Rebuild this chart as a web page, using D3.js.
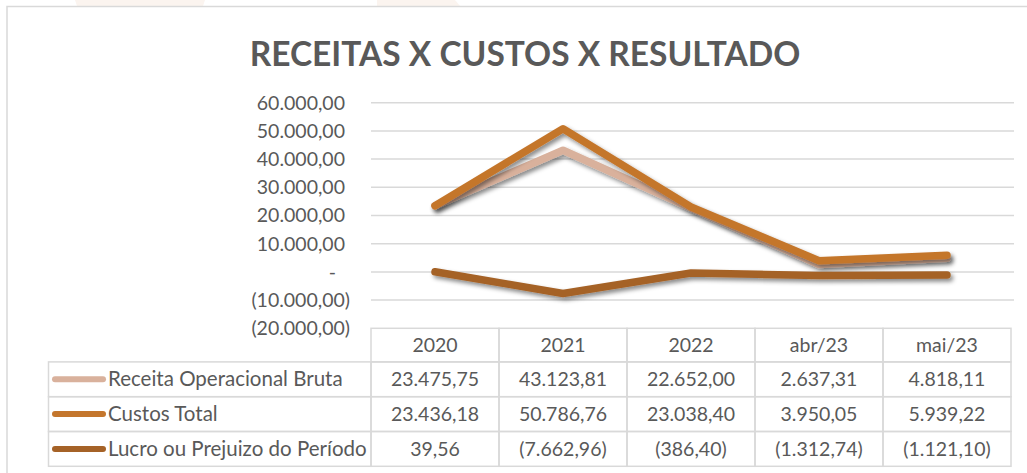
<!DOCTYPE html>
<html>
<head>
<meta charset="utf-8">
<script src="https://cdn.jsdelivr.net/npm/d3@7"></script>
<style>
  html, body { margin: 0; padding: 0; background: #ffffff; }
  svg { display: block; }
  text { font-family: Lato, "Open Sans", sans-serif; fill: #595959; }
</style>
</head>
<body>
<svg id="chart" width="1027" height="473"></svg>
<script>
const title = "RECEITAS X CUSTOS X RESULTADO";
const categories = ["2020", "2021", "2022", "abr/23", "mai/23"];
const seriesNames = ["Receita Operacional Bruta", "Custos Total", "Lucro ou Prejuizo do Período"];
const receita = [23475.75, 43123.81, 22652.00, 2637.31, 4818.11];
const custos = [23436.18, 50786.76, 23038.40, 3950.05, 5939.22];
const lucro = [39.56, -7662.96, -386.40, -1312.74, -1121.10];
const yTicks = [60000, 50000, 40000, 30000, 20000, 10000, 0, -10000, -20000];
const colors = ["#D9B19C", "#C4762C", "#A56227"];

const series = [
  { name: seriesNames[0], values: receita, color: colors[0] },
  { name: seriesNames[1], values: custos, color: colors[1] },
  { name: seriesNames[2], values: lucro, color: colors[2] }
];

const locale = d3.formatLocale({ decimal: ",", thousands: ".", grouping: [3], currency: ["", ""] });
const fmt = locale.format(",.2f");
function acct(v) {
  if (v === 0) return "-";
  if (v < 0) return "(" + fmt(-v) + ")";
  return fmt(v);
}

const svg = d3.select("#chart");
const gridColor = "#D9D9D9";

// faint background decoration at top
svg.append("path").attr("d", "M75,0 L205,0 L203,6 L77,6 Z").attr("fill", "#FBF4EF");
svg.append("path").attr("d", "M377,0 L455,0 L460,6 L377,6 Z").attr("fill", "#FBF4EF");

// chart frame
svg.append("rect").attr("x", 7).attr("y", 6.5).attr("width", 1040).attr("height", 500)
  .attr("fill", "#fff").attr("stroke", gridColor).attr("stroke-width", 1.5);

// title
svg.append("text").attr("x", 525).attr("y", 66).attr("text-anchor", "middle")
  .style("font-size", "33.5px").style("font-weight", "bold").text(title);

const plotLeft = 371, plotRight = 1011;
const x = d3.scaleBand().domain(categories).range([plotLeft, plotRight]);
const y = d3.scaleLinear().domain([-20000, 60000]).range([328.3, 102.7]);

// gridlines
svg.append("g").selectAll("line").data(yTicks.filter(t => t > -20000)).join("line")
  .attr("x1", plotLeft).attr("x2", plotRight + 3)
  .attr("y1", d => y(d)).attr("y2", d => y(d))
  .attr("stroke", gridColor).attr("stroke-width", 1.5);

// y labels
svg.append("g").selectAll("text").data(yTicks).join("text")
  .attr("x", d => d === 0 ? 336 : (d < 0 ? 350 : 345))
  .attr("y", d => y(d)).attr("dy", "0.35em")
  .attr("text-anchor", "end").style("font-size", "19.5px")
  .text(d => acct(d));

// drop shadow
const defs = svg.append("defs");
const f = defs.append("filter").attr("id", "shadow").attr("x", "-10%").attr("y", "-30%").attr("width", "130%").attr("height", "180%");
f.append("feDropShadow").attr("dx", 2.5).attr("dy", 3).attr("stdDeviation", 2.2)
  .attr("flood-color", "#000").attr("flood-opacity", 0.45);

const line = d3.line().x((d, i) => x(categories[i]) + x.bandwidth() / 2).y(d => y(d));
svg.append("g").selectAll("path").data(series).join("path")
  .attr("d", d => line(d.values))
  .attr("fill", "none").attr("stroke", d => d.color).attr("stroke-width", 7.5)
  .attr("stroke-linecap", "round").attr("stroke-linejoin", "round")
  .attr("filter", "url(#shadow)");

// data table
const tableTop = 328.3, headerH = 33.6, rowH = 34.8, legendLeft = 48.5;
const tg = svg.append("g");
tg.selectAll("rect.h").data(categories).join("rect").attr("class", "h")
  .attr("x", d => x(d)).attr("y", tableTop).attr("width", x.bandwidth()).attr("height", headerH)
  .attr("fill", "none").attr("stroke", gridColor).attr("stroke-width", 1.5);
tg.selectAll("text.h").data(categories).join("text").attr("class", "h")
  .attr("x", d => x(d) + x.bandwidth() / 2).attr("y", tableTop + headerH / 2).attr("dy", "0.35em")
  .attr("text-anchor", "middle").style("font-size", "19.5px").text(d => d);

series.forEach((s, r) => {
  const ry = tableTop + headerH + r * rowH;
  tg.append("rect").attr("x", legendLeft).attr("y", ry).attr("width", plotLeft - legendLeft).attr("height", rowH)
    .attr("fill", "none").attr("stroke", gridColor).attr("stroke-width", 1.5);
  tg.append("line").attr("x1", 55).attr("x2", 103).attr("y1", ry + rowH / 2).attr("y2", ry + rowH / 2)
    .attr("stroke", s.color).attr("stroke-width", 6).attr("stroke-linecap", "round");
  tg.append("text").attr("x", 108).attr("y", ry + rowH / 2).attr("dy", "0.35em")
    .style("font-size", "20.5px").text(s.name);
  tg.selectAll("rect.r" + r).data(s.values).join("rect").attr("class", "r" + r)
    .attr("x", (d, i) => x(categories[i])).attr("y", ry).attr("width", x.bandwidth()).attr("height", rowH)
    .attr("fill", "none").attr("stroke", gridColor).attr("stroke-width", 1.5);
  tg.selectAll("text.r" + r).data(s.values).join("text").attr("class", "r" + r)
    .attr("x", (d, i) => x(categories[i]) + x.bandwidth() / 2).attr("y", ry + rowH / 2).attr("dy", "0.35em")
    .attr("text-anchor", "middle").style("font-size", "19.5px").text(d => acct(d));
});
</script>
</body>
</html>
